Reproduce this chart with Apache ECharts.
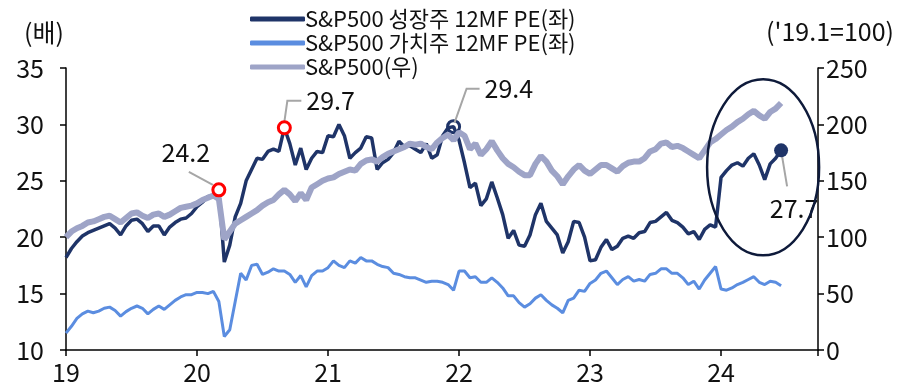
<!DOCTYPE html>
<html>
<head>
<meta charset="utf-8">
<title>S&P500 성장주 / 가치주 12MF PE</title>
<script src="https://cdn.jsdelivr.net/npm/echarts/dist/echarts.min.js"></script>
<style>
  html, body { margin: 0; padding: 0; background: #fff; }
  #main { width: 909px; height: 389px; }
</style>
</head>
<body>
<div id="main"></div>
<script type="text/javascript">
// 반월 간격 데이터, 2019년 1월부터
var startYear = 2019;
var perYear = 24;

var legendNames = ['S&P500 성장주 12MF PE(좌)', 'S&P500 가치주 12MF PE(좌)', 'S&P500(우)'];

var growthPE = [
  18.2, 19.0, 19.6, 20.1, 20.4, 20.6, 20.8, 21.0, 21.2, 20.8,
  20.2, 21.0, 21.5, 21.6, 21.2, 20.5, 21.0, 21.0, 20.2, 20.9,
  21.3, 21.6, 21.7, 22.1, 22.7, 23.1, 23.6, 23.6, 24.2, 17.8,
  19.3, 21.8, 23.0, 25.0, 26.0, 27.0, 26.9, 27.6, 27.8, 27.6,
  29.7, 28.3, 26.4, 27.9, 26.0, 27.0, 27.6, 27.5, 29.0, 28.9,
  30.0, 29.0, 27.0, 27.5, 27.9, 28.9, 28.8, 26.0, 26.6, 26.9,
  27.5, 28.5, 28.0, 28.1, 27.8, 27.5, 28.3, 27.0, 27.3, 29.0,
  29.7, 29.8,
  28.6, 26.6, 24.4, 24.8, 22.8, 23.4, 24.9, 23.5, 22.0, 19.9,
  20.6, 19.3, 19.2, 20.2, 22.0, 23.0, 21.4, 20.8, 20.2, 18.6,
  19.6, 21.4, 21.3, 20.0, 17.9, 18.0, 19.1, 19.8, 18.9, 19.2,
  19.9, 20.1, 19.9, 20.4, 20.5, 21.3, 21.4, 21.8, 22.2, 21.5,
  21.3, 20.9, 20.3, 20.5, 19.8, 20.7, 21.1, 20.9, 25.3, 25.9,
  26.4, 26.6, 26.3, 27.0, 27.4, 26.4, 25.1, 26.5, 27.0, 27.7
];

var valuePE = [
  11.5, 12.1, 12.8, 13.2, 13.45, 13.3, 13.45, 13.7, 13.8, 13.5,
  13.0, 13.4, 13.7, 13.9, 13.7, 13.2, 13.6, 13.9, 13.6, 14.0,
  14.4, 14.7, 14.9, 14.9, 15.1, 15.1, 15.0, 15.2, 14.3, 11.2,
  11.8, 14.3, 16.8, 16.2, 17.5, 17.6, 16.7, 16.9, 17.2, 17.0,
  17.0, 16.7, 16.0, 16.6, 15.6, 16.6, 17.0, 17.0, 17.3, 17.9,
  17.5, 17.3, 17.9, 17.7, 18.2, 17.9, 17.9, 17.6, 17.4, 17.3,
  16.8, 16.7, 16.5, 16.4, 16.4, 16.2, 16.0, 16.1, 16.1, 16.0,
  15.8, 15.3,
  17.0, 17.0, 16.4, 16.5, 16.0, 16.0, 16.4, 16.0, 15.5, 14.8,
  14.8, 14.2, 13.8, 14.1, 14.6, 14.9, 14.4, 14.0, 13.7, 13.3,
  14.4, 14.6, 15.3, 15.2, 15.9, 16.2, 16.8, 17.0, 16.4, 15.8,
  16.25, 16.5, 16.1, 16.25, 16.1, 16.7, 16.8, 17.2, 17.2, 16.8,
  16.8, 16.4, 15.8, 16.1, 15.4, 16.2, 16.8, 17.4, 15.4, 15.3,
  15.5, 15.8, 16.0, 16.25, 16.5, 16.0, 15.8, 16.1, 16.0, 15.7
];

// '19.1 = 100
var spx = [
  100, 105, 108, 110, 113, 114, 116, 118, 119, 116,
  113, 117, 121, 122, 119, 117, 120, 121, 118, 120,
  123, 126, 127, 128, 130, 133, 135, 137, 134, 98,
  105, 112, 115, 118, 121, 124, 128, 131, 133, 138,
  142, 138, 132, 139, 133, 144, 147, 150, 152, 153,
  156, 158, 160, 159, 165, 168, 169, 167, 171, 174,
  176, 178, 180, 183, 182, 183, 180, 178, 184, 188,
  191, 186,
  193, 190, 178, 183, 173, 178, 185, 177, 170, 165,
  162, 158, 155, 155, 165, 172, 167, 159, 154, 147,
  154, 160, 164, 159, 156, 160, 164, 164, 161, 158,
  163, 166, 167, 167, 170, 176, 178, 183, 184, 180,
  181, 179, 176, 173, 170, 177, 184, 187, 191, 195,
  198, 202, 205, 209, 212, 208, 205, 211, 214, 219
];

// 주석: [데이터 위치, 표시 값]
var notes = [[28, '24.2'], [40, '29.7'], [71, '29.4'], [131, '27.7']];

var xs = growthPE.map(function (v, i) { return startYear + i / perYear; });
function pairs(arr) {
  return arr.map(function (v, i) { return [xs[i], v]; });
}

var navy = '#1f3468';
var blue = '#5b8de0';
var gray = '#9ea4c7';
var font = 'Noto Sans CJK KR';

var chart = echarts.init(document.getElementById('main'));

var axisLineStyle = { color: '#000', width: 1.5 };

var option = {
  animation: false,
  textStyle: { fontFamily: font },
  grid: { left: 66, right: 91, top: 68, bottom: 39, containLabel: false },
  legend: {
    orient: 'vertical',
    left: 245, top: 3,
    itemWidth: 55, itemHeight: 5, itemGap: 2,
    icon: 'roundRect',
    textStyle: { fontSize: 22, color: '#111', fontFamily: font, padding: [0, 0, 0, -5] },
    data: legendNames
  },
  xAxis: {
    type: 'value',
    min: 2019, max: 2024.74, interval: 1,
    splitLine: { show: false },
    axisLine: { lineStyle: axisLineStyle },
    axisTick: { show: true, length: 6, lineStyle: axisLineStyle },
    axisLabel: {
      fontSize: 25, color: '#111', margin: 10,
      formatter: function (v) { return Number.isInteger(v) ? String(v).slice(2) : ''; }
    }
  },
  yAxis: [{
    type: 'value', min: 10, max: 35, interval: 5,
    splitLine: { show: false },
    axisLine: { show: true, lineStyle: axisLineStyle },
    axisTick: { show: true, length: 6, lineStyle: axisLineStyle },
    axisLabel: { fontSize: 25, color: '#111', margin: 22 }
  }, {
    type: 'value', min: 0, max: 250, interval: 50,
    splitLine: { show: false },
    axisLine: { show: true, lineStyle: axisLineStyle },
    axisTick: { show: true, length: 6, lineStyle: axisLineStyle },
    axisLabel: { fontSize: 25, color: '#111', margin: 8 }
  }],
  series: [{
    name: legendNames[0], type: 'line', yAxisIndex: 0,
    data: pairs(growthPE), showSymbol: false, z: 3,
    color: navy, lineStyle: { width: 3.5, color: navy }
  }, {
    name: legendNames[1], type: 'line', yAxisIndex: 0,
    data: pairs(valuePE), showSymbol: false, z: 2,
    color: blue, lineStyle: { width: 3, color: blue }
  }, {
    name: legendNames[2], type: 'line', yAxisIndex: 1,
    data: pairs(spx), showSymbol: false, z: 4,
    color: gray, lineStyle: { width: 6, color: gray }
  }]
};
chart.setOption(option);

function px(i) {
  return chart.convertToPixel({ xAxisIndex: 0, yAxisIndex: 0 }, [xs[i], growthPE[i]]);
}

var labelStyle = { fontSize: 25, fill: '#111', fontFamily: font };
var pointerStyle = { stroke: '#a6a6a6', lineWidth: 2, fill: null };
var g = [];

// 24.2
var p = px(notes[0][0]);
g.push({ type: 'line', shape: { x1: p[0] - 6, y1: p[1] - 5, x2: p[0] - 30, y2: p[1] - 18 }, style: pointerStyle, z: 10 });
g.push({ type: 'text', x: p[0] - 33, y: p[1] - 37, style: Object.assign({ text: notes[0][1], align: 'center', verticalAlign: 'middle' }, labelStyle), z: 10 });
g.push({ type: 'circle', shape: { cx: p[0], cy: p[1], r: 6 }, style: { fill: '#fff', stroke: '#ff0000', lineWidth: 3 }, z: 11 });

// 29.7
p = px(notes[1][0]);
g.push({ type: 'polyline', shape: { points: [[p[0], p[1] - 6], [p[0] + 3, p[1] - 27], [p[0] + 17, p[1] - 27]] }, style: pointerStyle, z: 10 });
g.push({ type: 'text', x: p[0] + 22, y: p[1] - 27, style: Object.assign({ text: notes[1][1], align: 'left', verticalAlign: 'middle' }, labelStyle), z: 10 });
g.push({ type: 'circle', shape: { cx: p[0], cy: p[1], r: 6 }, style: { fill: '#fff', stroke: '#ff0000', lineWidth: 3 }, z: 11 });

// 29.4
p = px(notes[2][0]);
g.push({ type: 'circle', shape: { cx: p[0], cy: p[1], r: 6 }, style: { fill: null, stroke: navy, lineWidth: 3 }, z: 3 });
g.push({ type: 'polyline', shape: { points: [[p[0] + 1, p[1] - 4], [p[0] + 13, p[1] - 38], [p[0] + 26, p[1] - 38]] }, style: pointerStyle, z: 10 });
g.push({ type: 'text', x: p[0] + 31, y: p[1] - 38, style: Object.assign({ text: notes[2][1], align: 'left', verticalAlign: 'middle' }, labelStyle), z: 10 });

// 27.7 + 타원
p = px(notes[3][0]);
g.push({ type: 'line', shape: { x1: p[0] + 1, y1: p[1] + 6, x2: p[0] + 6, y2: p[1] + 36 }, style: pointerStyle, z: 10 });
g.push({ type: 'circle', shape: { cx: p[0], cy: p[1], r: 7 }, style: { fill: navy }, z: 11 });
g.push({ type: 'text', x: p[0] + 13, y: p[1] + 58, style: Object.assign({ text: notes[3][1], align: 'center', verticalAlign: 'middle' }, labelStyle), z: 10 });
g.push({ type: 'ellipse', shape: { cx: p[0] - 18, cy: p[1] + 17, rx: 56, ry: 88 }, style: { fill: null, stroke: '#0e1a3a', lineWidth: 2.5 }, z: 10 });

// 단위
g.push({ type: 'text', x: 44, y: 32, style: Object.assign({ text: '(배)', align: 'center', verticalAlign: 'middle' }, labelStyle) });
g.push({ type: 'text', x: 830, y: 31, style: Object.assign({ text: "('19.1=100)", align: 'center', verticalAlign: 'middle' }, labelStyle) });

chart.setOption({ graphic: g });
</script>
</body>
</html>
